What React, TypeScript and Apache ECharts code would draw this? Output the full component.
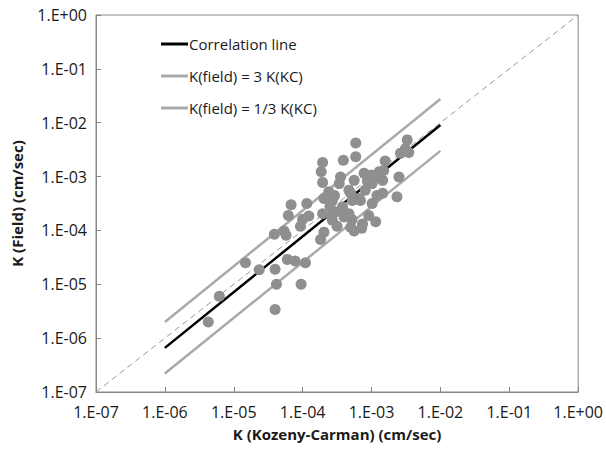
import React, { useEffect, useRef } from "react";
import * as echarts from "echarts";

// K(Kozeny-Carman) [cm/sec] vs K(Field) [cm/sec]
const kcValues: number[] = [
  4.27e-6, 6.17e-6, 1.48e-5, 2.34e-5, 3.89e-5, 3.98e-5, 4.17e-5, 3.98e-5, 5.37e-5, 5.75e-5,
  6.0e-5, 7.8e-5, 6.2e-5, 6.8e-5, 9.5e-5, 1.1e-4, 9.3e-5, 1.0e-4, 1.15e-4, 1.23e-4,
  1.95e-4, 1.86e-4, 1.95e-4, 3.9e-4, 5.9e-4, 5.9e-4, 3.55e-4, 3.4e-4, 2.04e-4, 2.4e-4,
  2.9e-4, 4.7e-4, 5.25e-4, 6.9e-4, 1.95e-4, 3.0e-4, 4.7e-4, 3.8e-4, 5.2e-4, 5.0e-4,
  2.04e-4, 1.82e-4, 7.4e-4, 7.8e-4, 5.6e-4, 1.29e-3, 1.45e-3, 1.02e-3, 8.1e-4, 5.0e-4,
  6.6e-4, 1.2e-3, 2.5e-3, 2.34e-3, 2.63e-3, 3.1e-3, 3.3e-3, 3.47e-3, 1.58e-3, 1.45e-3,
  1.02e-3, 9.1e-4, 1.15e-3, 7.2e-4, 5.6e-4, 2.7e-4, 2.3e-4, 2.7e-4, 3.16e-4, 4.0e-4,
  1.0e-3, 8.7e-4, 1.5e-3, 1.1e-3, 2.6e-4, 2.5e-4,
];
const fieldValues: number[] = [
  2.0e-6, 6.0e-6, 2.5e-5, 1.86e-5, 8.5e-5, 1.9e-5, 1.0e-5, 3.39e-6, 9.8e-5, 8.1e-5,
  2.9e-5, 2.7e-5, 1.9e-4, 3.0e-4, 1.0e-5, 2.5e-5, 1.2e-4, 1.62e-4, 3.16e-4, 1.86e-4,
  1.82e-3, 1.23e-3, 7.8e-4, 2.0e-3, 4.2e-3, 2.34e-3, 9.8e-4, 7.4e-4, 3.9e-4, 5.25e-4,
  4.47e-4, 5.6e-4, 3.6e-4, 3.6e-4, 2.04e-4, 2.2e-4, 2.04e-4, 2.75e-4, 1.6e-4, 1.15e-4,
  9.3e-5, 6.8e-5, 1.32e-4, 1.15e-3, 8.5e-4, 1.23e-3, 8.5e-4, 7.4e-4, 5.6e-4, 4.9e-4,
  3.9e-4, 4.47e-4, 9.8e-4, 4.2e-4, 2.7e-3, 3.3e-3, 4.8e-3, 2.8e-3, 1.95e-3, 4.9e-4,
  3.16e-4, 1.9e-4, 1.45e-4, 1.1e-4, 9.8e-5, 1.55e-4, 4.2e-4, 3.6e-4, 1.2e-4, 1.78e-4,
  1.07e-3, 8.3e-4, 1.3e-3, 9.1e-4, 1.9e-4, 2.8e-4,
];

// Line end points
const correlationLine: [number, number][] = [[1e-6, 6.6e-7], [1e-2, 9.1e-3]];
const upperLine: [number, number][] = [[1e-6, 2.0e-6], [1e-2, 2.75e-2]];
const lowerLine: [number, number][] = [[1e-6, 2.2e-7], [1e-2, 3.0e-3]];
const oneToOneLine: [number, number][] = [[1e-7, 1e-7], [1, 1]];

const legendNames = ["Correlation line", "K(field) = 3 K(KC)", "K(field) = 1/3 K(KC)"];
const xAxisTitle = "K (Kozeny-Carman) (cm/sec)";
const yAxisTitle = "K (Field) (cm/sec)";

const FONT = "'Open Sans', 'Noto Sans', sans-serif";
const AXIS_GRAY = "#868686";
const TEXT = "#1a1a1a";

function fmtExp(v: number): string {
  const e = Math.round(Math.log10(v));
  const a = Math.abs(e);
  return "1.E" + (e < 0 ? "-" : "+") + (a < 10 ? "0" + a : String(a));
}

export default function App() {
  const ref = useRef<HTMLDivElement>(null);
  useEffect(() => {
    if (!ref.current) return;
    const chart = echarts.init(ref.current, undefined, { renderer: "svg" });
    const points = kcValues.map((x, i) => [x, fieldValues[i]]);
    const axisCommon = {
      type: "log" as const,
      logBase: 10,
      min: 1e-7,
      max: 1,
      splitNumber: 7,
      nameLocation: "middle" as const,
      nameTextStyle: { fontFamily: FONT, fontWeight: "bold" as const, fontSize: 15, color: TEXT },
      axisLine: { show: true, lineStyle: { color: AXIS_GRAY, width: 1 } },
      axisTick: { show: true, inside: true, length: 5, lineStyle: { color: AXIS_GRAY } },
      axisLabel: { fontFamily: FONT, fontSize: 16, color: TEXT, formatter: (v: number) => fmtExp(v) },
      splitLine: { show: false },
      minorTick: { show: false },
    };
    chart.setOption({
      animation: false,
      backgroundColor: "#fff",
      grid: {
        left: 96,
        right: 26,
        top: 15,
        bottom: 62,
        show: true,
        borderColor: AXIS_GRAY,
        borderWidth: 1,
        backgroundColor: "#fff",
      },
      legend: {
        data: [
          { name: legendNames[0], itemStyle: { color: "#000" } },
          { name: legendNames[1], itemStyle: { color: "#aaaaaa" } },
          { name: legendNames[2], itemStyle: { color: "#aaaaaa" } },
        ],
        orient: "vertical",
        left: 156,
        top: 30,
        icon: "rect",
        itemWidth: 27,
        itemHeight: 3,
        itemGap: 14,
        textStyle: { fontFamily: FONT, fontSize: 15, color: TEXT, lineHeight: 18, padding: [0, 0, 0, -4] },
      },
      xAxis: { ...axisCommon, name: xAxisTitle, nameGap: 34, axisLabel: { ...axisCommon.axisLabel, margin: 12 } },
      yAxis: { ...axisCommon, name: yAxisTitle, nameGap: 72, axisLabel: { ...axisCommon.axisLabel, margin: 9 } },
      series: [
        {
          name: legendNames[1],
          type: "line",
          data: upperLine,
          showSymbol: false,
          lineStyle: { color: "#aaaaaa", width: 2.5 },
          itemStyle: { color: "#aaaaaa" },
          z: 2,
        },
        {
          name: legendNames[2],
          type: "line",
          data: lowerLine,
          showSymbol: false,
          lineStyle: { color: "#aaaaaa", width: 2.5 },
          itemStyle: { color: "#aaaaaa" },
          z: 2,
        },
        {
          name: legendNames[0],
          type: "line",
          data: correlationLine,
          showSymbol: false,
          lineStyle: { color: "#000", width: 2.5 },
          itemStyle: { color: "#000" },
          z: 3,
        },
        {
          name: "points",
          type: "scatter",
          data: points,
          symbolSize: 11,
          itemStyle: { color: "#8f8f8f", opacity: 1 },
          z: 4,
        },
        {
          name: "1:1",
          type: "line",
          data: oneToOneLine,
          showSymbol: false,
          lineStyle: { color: "#999999", width: 1, type: [6, 4] },
          z: 5,
        },
      ],
    });
    return () => chart.dispose();
  }, []);
  return <div ref={ref} style={{ width: 606, height: 454, position: "absolute", left: 0, top: 0 }} />;
}
